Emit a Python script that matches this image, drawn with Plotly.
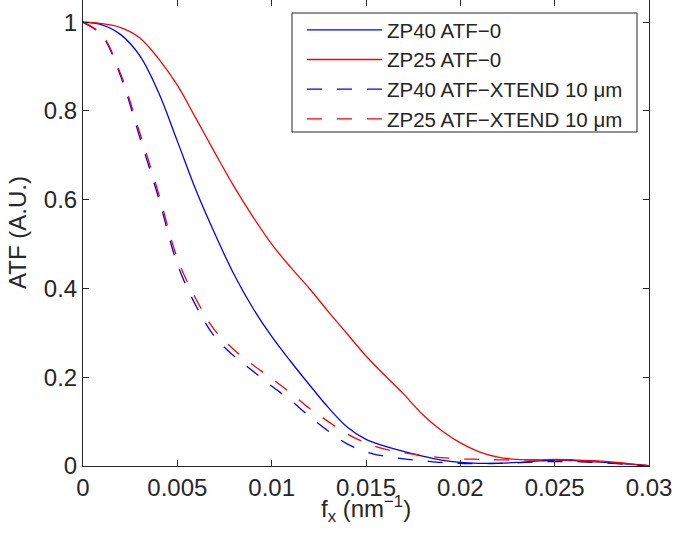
import plotly.graph_objects as go

fx = [0.000, 0.001, 0.002, 0.003, 0.004, 0.005, 0.006, 0.007, 0.008, 0.009,
      0.010, 0.011, 0.012, 0.013, 0.014, 0.015, 0.016, 0.017, 0.018, 0.019,
      0.020, 0.021, 0.022, 0.023, 0.024, 0.025, 0.026, 0.027, 0.028, 0.029, 0.030]

zp40_atf0 = [1.000, 0.994, 0.972, 0.925, 0.842, 0.732, 0.620, 0.522, 0.432, 0.356,
             0.292, 0.236, 0.183, 0.132, 0.088, 0.060, 0.045, 0.033, 0.022, 0.013,
             0.008, 0.006, 0.006, 0.008, 0.011, 0.013, 0.012, 0.010, 0.007, 0.004, 0.000]

zp25_atf0 = [1.000, 0.997, 0.988, 0.965, 0.918, 0.858, 0.782, 0.705, 0.630, 0.562,
             0.500, 0.448, 0.400, 0.348, 0.298, 0.248, 0.204, 0.162, 0.116, 0.080,
             0.052, 0.032, 0.020, 0.015, 0.014, 0.015, 0.014, 0.012, 0.009, 0.005, 0.001]

zp40_xtend = [1.000, 0.970, 0.878, 0.742, 0.605, 0.455, 0.360, 0.290, 0.248, 0.214,
              0.180, 0.148, 0.112, 0.079, 0.050, 0.032, 0.022, 0.016, 0.012, 0.008,
              0.006, 0.005, 0.006, 0.007, 0.009, 0.010, 0.010, 0.008, 0.006, 0.003, 0.000]

zp25_xtend = [1.000, 0.972, 0.883, 0.752, 0.615, 0.468, 0.375, 0.305, 0.262, 0.228,
              0.197, 0.165, 0.130, 0.100, 0.072, 0.052, 0.038, 0.030, 0.024, 0.019,
              0.016, 0.015, 0.014, 0.014, 0.014, 0.014, 0.013, 0.011, 0.008, 0.005, 0.001]

series_names = ["ZP40 ATF\u22120", "ZP25 ATF\u22120",
                "ZP40 ATF\u2212XTEND 10 \u03bcm", "ZP25 ATF\u2212XTEND 10 \u03bcm"]

x_tickvals = [0, 0.005, 0.01, 0.015, 0.02, 0.025, 0.03]
x_ticktext = ["0", "0.005", "0.01", "0.015", "0.02", "0.025", "0.03"]
y_tickvals = [0, 0.2, 0.4, 0.6, 0.8, 1.0]
y_ticktext = ["0", "0.2", "0.4", "0.6", "0.8", "1"]

FONT = "Liberation Sans, Arial, Helvetica, sans-serif"
INK = "#262626"

W, H = 675, 542
ML, MR, MT, MB = 83, 26, 0, 76
PW, PH = W - ML - MR, H - MT - MB


def px_x(p):
    return (p - ML) / PW


def px_y(p):
    return 1 - (p - MT) / PH


fig = go.Figure()
styles = [("#0000FF", "solid"), ("#FF0000", "solid"),
          ("#0000FF", "15px,15px"), ("#FF0000", "15px,15px")]
for name, ys, (col, dash) in zip(series_names,
                                 [zp40_atf0, zp25_atf0, zp40_xtend, zp25_xtend],
                                 styles):
    fig.add_trace(go.Scatter(x=fx, y=ys, mode="lines", name=name,
                             line=dict(color=col, width=1.3, dash=dash,
                                       shape="spline", smoothing=1.0)))

axis_common = dict(showgrid=False, zeroline=False, showline=True, linecolor=INK,
                   linewidth=1, mirror="ticks", ticks="inside", ticklen=6,
                   tickcolor=INK, automargin=False,
                   tickfont=dict(family=FONT, size=24, color=INK))

fig.update_layout(
    width=W, height=H,
    margin=dict(l=ML, r=MR, t=MT, b=MB),
    paper_bgcolor="white", plot_bgcolor="white",
    font=dict(family=FONT, color=INK),
    xaxis=dict(range=[0, 0.03], tickvals=x_tickvals, ticktext=x_ticktext, **axis_common),
    yaxis=dict(range=[0, 1.05], tickvals=y_tickvals, ticktext=y_ticktext, **axis_common),
    legend=dict(x=px_x(302), y=px_y(10), xanchor="left", yanchor="top",
                bgcolor="rgba(0,0,0,0)", borderwidth=0,
                font=dict(family=FONT, size=20.5, color=INK),
                itemwidth=75, tracegroupgap=0),
    showlegend=True,
    shapes=[dict(type="rect", xref="paper", yref="paper",
                 x0=px_x(292), x1=px_x(637), y0=px_y(132), y1=px_y(13),
                 line=dict(color=INK, width=1), fillcolor="white", layer="below")],
    annotations=[
        dict(text="f<sub>x</sub> (nm<sup>\u22121</sup>)", xref="paper", yref="paper",
             x=0.5, y=0, yshift=-43, xanchor="center", yanchor="middle",
             showarrow=False, font=dict(family=FONT, size=24, color=INK)),
        dict(text="ATF (A.U.)", xref="paper", yref="paper",
             x=0, y=0.5, xshift=-66, xanchor="center", yanchor="middle", textangle=-90,
             showarrow=False, font=dict(family=FONT, size=24, color=INK)),
    ],
)

fig.write_html("out.html", config={"displayModeBar": False},
               post_script="document.body.style.margin='0';document.body.style.overflow='hidden';")
